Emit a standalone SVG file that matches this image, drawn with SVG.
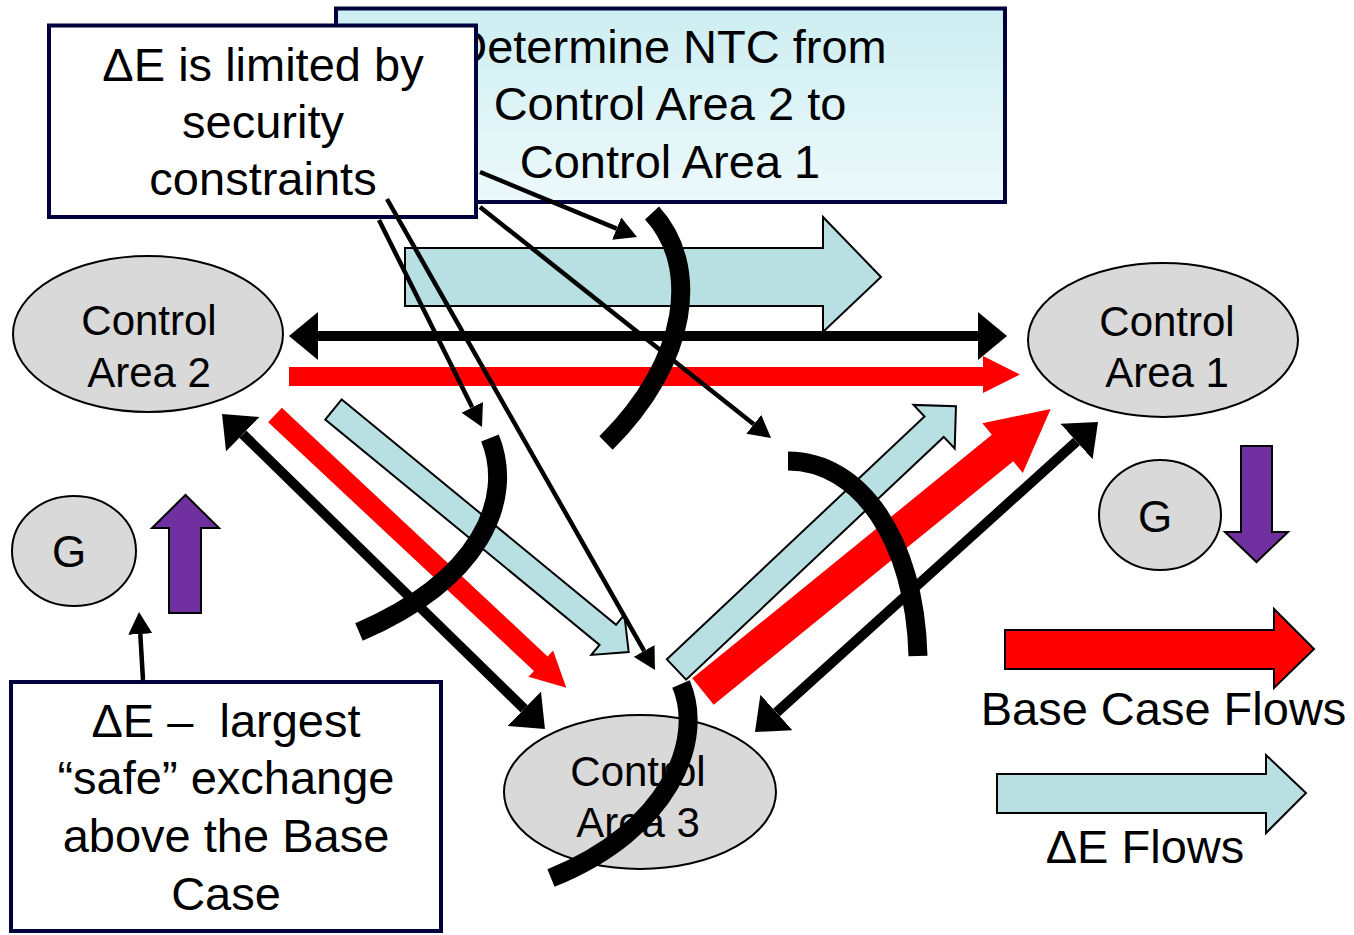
<svg xmlns="http://www.w3.org/2000/svg" width="1354" height="935" viewBox="0 0 1354 935">
<style>
.box{stroke:#00003c;stroke-width:4}
.area{fill:#d9d9d9;stroke:#000;stroke-width:2}
.lbl{font-family:"Liberation Sans",Arial,sans-serif;fill:#000;text-anchor:middle}
.big{font-size:47px}
.mid{font-size:42px}
.gl{font-size:44px}
.cyan{fill:#b8e0e3;stroke:#000;stroke-width:2;stroke-linejoin:miter}
.red{fill:#ff0000}
.redo{fill:#ff0000;stroke:#000;stroke-width:2}
.purple{fill:#7030a0;stroke:#000;stroke-width:2}
.blk{stroke:#000;stroke-width:10;fill:none}
.thin{stroke:#000;stroke-width:4.5;fill:none}
.cut{stroke:#000;stroke-width:19;fill:none}
</style>
<defs>
<linearGradient id="ntcFill" x1="0" y1="0" x2="0" y2="1"><stop offset="0" stop-color="#cdeef2"/><stop offset="1" stop-color="#edf9fb"/></linearGradient>
<marker id="bigHead" markerUnits="userSpaceOnUse" viewBox="0 0 29 48" markerWidth="29" markerHeight="48" refX="0" refY="24" orient="auto-start-reverse"><path d="M0,0 L29,24 L0,48 z" fill="#000"/></marker>
<marker id="smallHead" markerUnits="userSpaceOnUse" viewBox="0 0 22 24" markerWidth="22" markerHeight="24" refX="0" refY="12" orient="auto"><path d="M0,0 L22,12 L0,24 z" fill="#000"/></marker>
</defs>
<rect width="1354" height="935" fill="#fff"/>

<g id="box-ntc">
<rect class="box" x="336" y="8.5" width="669" height="193.5" fill="url(#ntcFill)"/>
<text class="lbl big" x="670" y="63">Determine NTC from</text>
<text class="lbl big" x="670" y="120">Control Area 2 to</text>
<text class="lbl big" x="670" y="178">Control Area 1</text>
</g>

<g id="box-limited">
<rect class="box" x="49" y="25.5" width="427" height="191.5" fill="#fff"/>
<text class="lbl big" x="263" y="81">ΔE is limited by</text>
<text class="lbl big" x="263" y="138">security</text>
<text class="lbl big" x="263" y="195">constraints</text>
</g>

<g id="box-largest">
<rect class="box" x="11" y="682" width="430" height="249" fill="#fff"/>
<text class="lbl big" x="226" y="737" xml:space="preserve">ΔE –  largest</text>
<text class="lbl big" x="226" y="794">“safe” exchange</text>
<text class="lbl big" x="226" y="852">above the Base</text>
<text class="lbl big" x="226" y="910">Case</text>
</g>

<g id="area-2">
<ellipse class="area" cx="148" cy="334" rx="135" ry="78"/>
<text class="lbl mid" x="149" y="335">Control</text>
<text class="lbl mid" x="149" y="387">Area 2</text>
</g>

<g id="area-1">
<ellipse class="area" cx="1163" cy="340" rx="135" ry="77"/>
<text class="lbl mid" x="1167" y="336">Control</text>
<text class="lbl mid" x="1167" y="387">Area 1</text>
</g>

<g id="area-3">
<ellipse class="area" cx="640" cy="792" rx="136" ry="77"/>
<text class="lbl mid" x="638" y="786">Control</text>
<text class="lbl mid" x="638" y="837">Area 3</text>
</g>

<g id="gen-2">
<ellipse class="area" cx="74" cy="551" rx="62" ry="55"/>
<text class="lbl gl" x="69" y="567">G</text>
<polygon class="purple" points="169,613 169,528 152,528 185.5,495 219,528 201,528 201,613"/>
</g>

<g id="gen-1">
<ellipse class="area" cx="1160" cy="515" rx="61" ry="55"/>
<text class="lbl gl" x="1155" y="532">G</text>
<polygon class="purple" points="1241,446 1272,446 1272,532 1288,532 1256.5,562 1225,532 1241,532"/>
</g>

<g id="connectors">
<!-- delta E flows (cyan) -->
<polygon class="cyan" points="405,248 823,248 823,217 881,277 823,332 823,306 405,306"/>
<polygon class="cyan" transform="translate(333.5,409.5) rotate(39.4)" points="0,-13 355,-13 355,-26 382,0 355,26 355,13 0,13"/>
<polygon class="cyan" transform="translate(676.5,669.5) rotate(-43.3)" points="0,-14 354,-14 354,-30 384,0 354,30 354,14 0,14"/>
<!-- base case flows (red) -->
<polygon class="red" points="289,367 983,367 983,356 1020,374.5 983,393 983,386 289,386"/>
<polygon class="red" transform="translate(275,415) rotate(43.1)" points="0,-10 364,-10 364,-18 399,0 364,18 364,10 0,10"/>
<polygon class="red" transform="translate(703,691.5) rotate(-39.1)" points="0,-17 386,-17 386,-32 448,0 386,32 386,17 0,17"/>
<!-- interconnections (black double arrows) -->
<line class="blk" x1="318" y1="336" x2="978" y2="336" marker-start="url(#bigHead)" marker-end="url(#bigHead)"/>
<line class="blk" x1="242.8" y1="434.2" x2="524.2" y2="708.8" marker-start="url(#bigHead)" marker-end="url(#bigHead)"/>
<line class="blk" x1="776.5" y1="712.5" x2="1076.5" y2="441.5" marker-start="url(#bigHead)" marker-end="url(#bigHead)"/>
<!-- cut curves -->
<path class="cut" d="M652,213 C700,265 690,360 606,443"/>
<path class="cut" d="M490,438 C515,500 480,580 359,632"/>
<path class="cut" d="M788,461 C860,461 915,540 918,656"/>
<path class="cut" d="M681,684 C705,740 670,830 551,878"/>
<!-- callout pointers -->
<line class="thin" x1="480" y1="172" x2="616.7" y2="228.6" marker-end="url(#smallHead)"/>
<line class="thin" x1="480" y1="207" x2="753.8" y2="424.3" marker-end="url(#smallHead)"/>
<line class="thin" x1="387" y1="199" x2="644.1" y2="650.9" marker-end="url(#smallHead)"/>
<line class="thin" x1="379" y1="220" x2="472.2" y2="407.3" marker-end="url(#smallHead)"/>
<line class="thin" x1="143" y1="680" x2="140.3" y2="634" marker-end="url(#smallHead)"/>
</g>

<g id="legend">
<polygon class="redo" points="1005,630 1274,630 1274,609 1314,649 1274,688 1274,669 1005,669"/>
<text class="lbl big" x="1163.5" y="725">Base Case Flows</text>
<polygon class="cyan" points="997,774 1266,774 1266,755 1306,793 1266,833 1266,813 997,813"/>
<text class="lbl big" x="1145" y="863">ΔE Flows</text>
</g>
</svg>
